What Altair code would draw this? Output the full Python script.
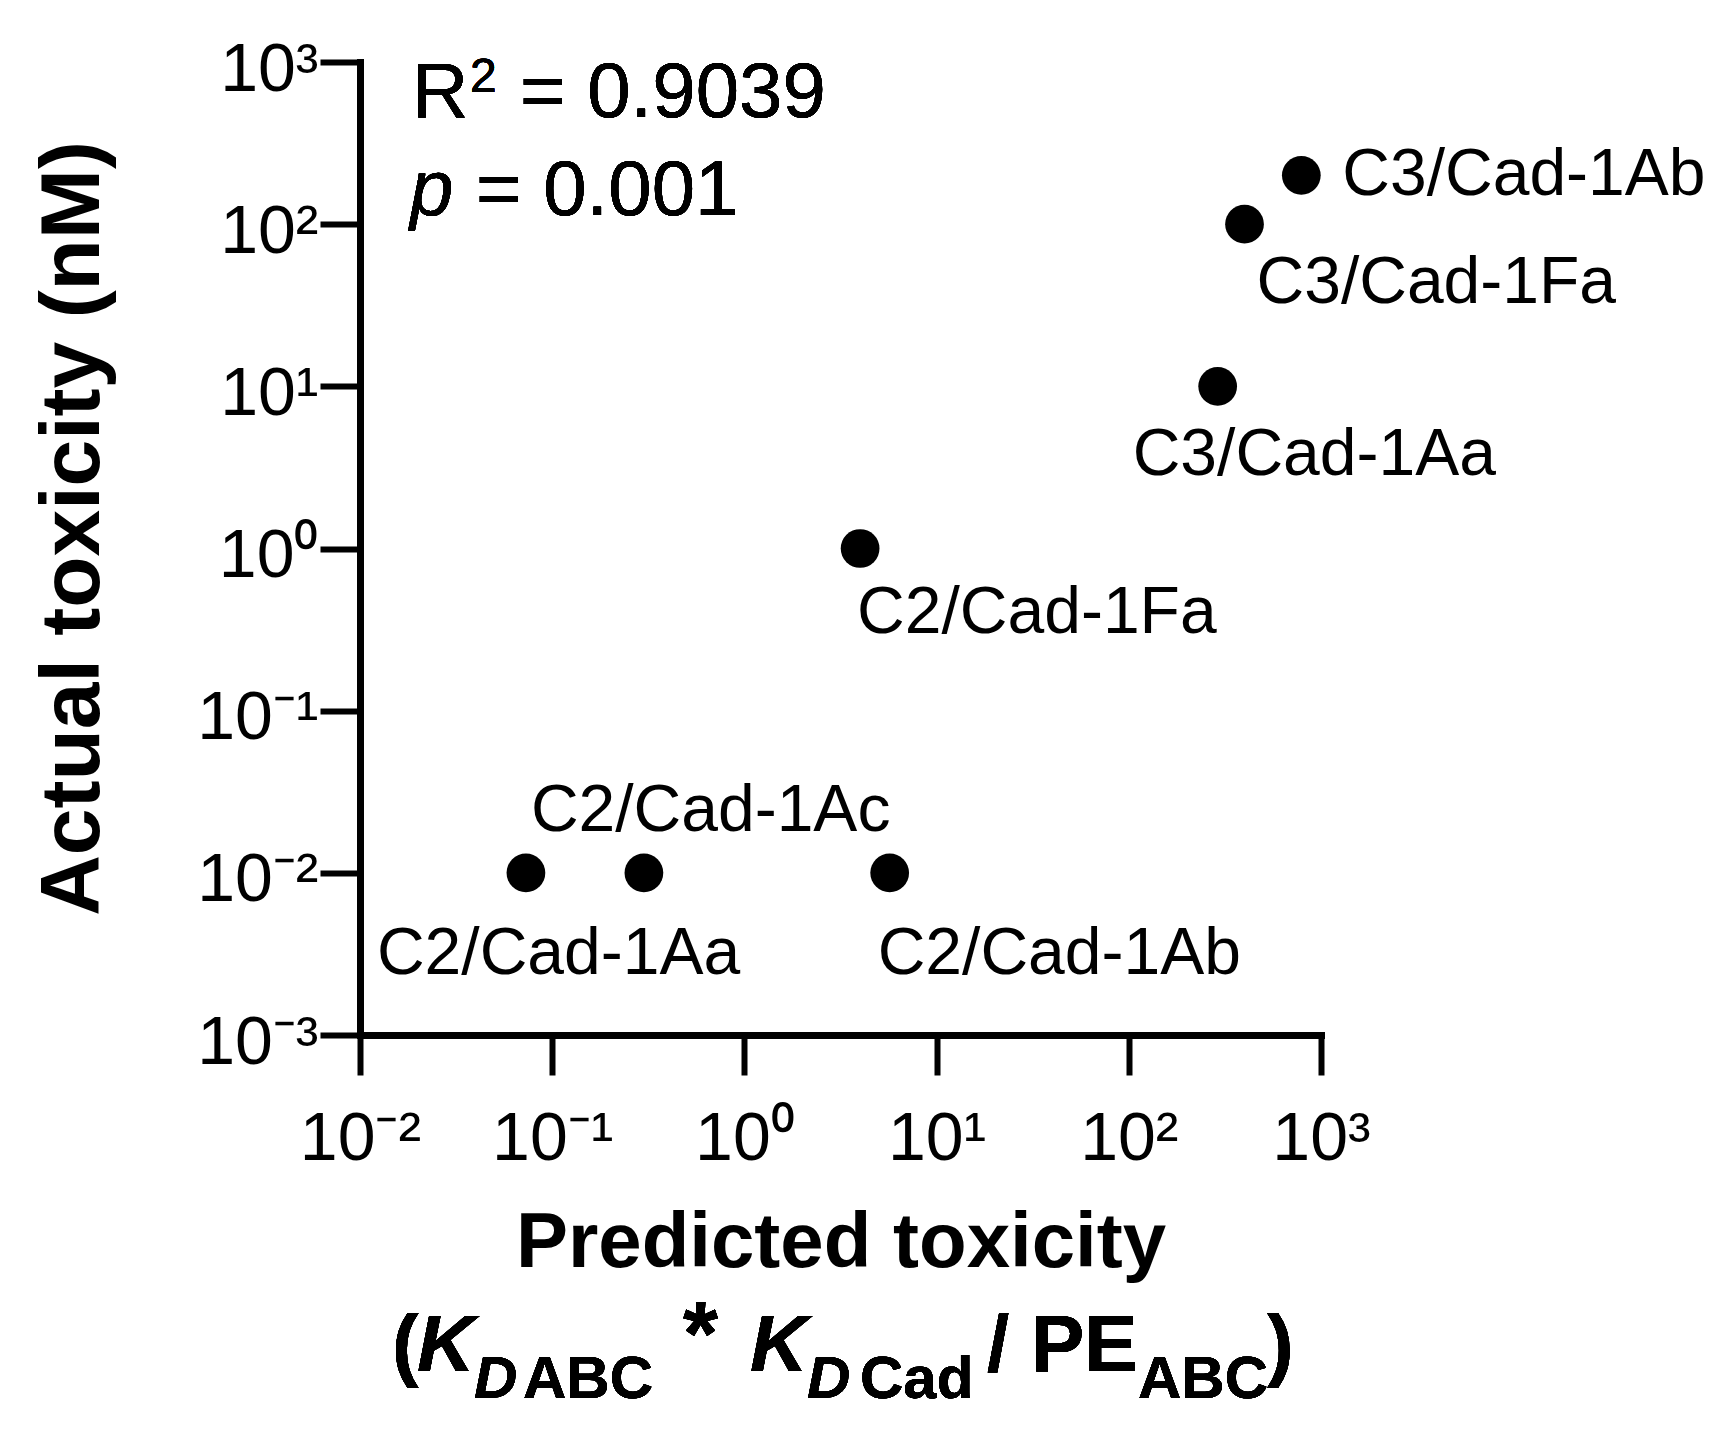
import altair as alt
import pandas as pd

FONT = "Liberation Sans"

# ---- data ----
names = ["C2/Cad-1Aa", "C2/Cad-1Ac", "C2/Cad-1Ab", "C2/Cad-1Fa",
         "C3/Cad-1Aa", "C3/Cad-1Fa", "C3/Cad-1Ab"]
predicted = [0.073, 0.30, 5.7, 4.0, 290, 400, 790]
actual = [0.01, 0.01, 0.01, 1, 10, 100, 200]

x_ticks = [0.01, 0.1, 1, 10, 100, 1000]
x_tick_labels = ["10⁻²", "10⁻¹", "10⁰", "10¹", "10²", "10³"]
y_ticks = [0.001, 0.01, 0.1, 1, 10, 100, 1000]
y_tick_labels = ["10⁻³", "10⁻²", "10⁻¹", "10⁰", "10¹", "10²", "10³"]

df = pd.DataFrame({"name": names, "predicted": predicted, "actual": actual})

# label placement (offsets from the point, px)
label_offsets = {
    "C2/Cad-1Aa": (-149, 101),
    "C2/Cad-1Ac": (-113, -42),
    "C2/Cad-1Ab": (-12, 101),
    "C2/Cad-1Fa": (-3, 84),
    "C3/Cad-1Aa": (-85, 89),
    "C3/Cad-1Fa": (12, 79),
    "C3/Cad-1Ab": (41, 20),
}

W, H = 961, 973


def label_expr(labels, offset):
    arr = "[" + ",".join("'" + s + "'" for s in labels) + "]"
    return f"{arr}[round(log(datum.value)/LN10)+{offset}]"


x_enc = alt.X(
    "predicted:Q",
    scale=alt.Scale(type="log", domain=[0.01, 1000], nice=False),
    axis=alt.Axis(
        values=x_ticks, labelExpr=label_expr(x_tick_labels, 2),
        title="Predicted toxicity", titleFontSize=78, titleFont=FONT,
        titleFontWeight="bold", titleBaseline="alphabetic", titleY=231,
        titleX=W / 2, titleAlign="center",
        labelPadding=30, labelFlush=False, labelOverlap=False,
    ),
)
y_enc = alt.Y(
    "actual:Q",
    scale=alt.Scale(type="log", domain=[0.001, 1000], nice=False),
    axis=alt.Axis(
        values=y_ticks, labelExpr=label_expr(y_tick_labels, 3),
        title="Actual toxicity (nM)", titleFontSize=84, titleFont=FONT,
        titleFontWeight="bold", titleAngle=270, titleBaseline="alphabetic",
        titleAlign="center", titleX=-262, titleY=466,
        labelPadding=2, labelOffset=8, labelOverlap=False, labelFlush=False,
    ),
)

base = alt.Chart(df)

points = base.mark_circle(size=1500, color="black", opacity=1).encode(
    x=x_enc, y=y_enc
)

layers = [points]
for n in names:
    dx, dy = label_offsets[n]
    layers.append(
        base.transform_filter(alt.datum.name == n)
        .mark_text(align="left", baseline="alphabetic", dx=dx, dy=dy,
                   fontSize=66, font=FONT, color="black")
        .encode(x=x_enc, y=y_enc, text="name:N")
    )


def txt(text, x, y, size, weight="normal", style="normal", align="left"):
    return alt.Chart(df).mark_text(
        align=align, baseline="alphabetic", fontSize=size, font=FONT,
        fontWeight=weight, fontStyle=style, color="black",
    ).encode(x=alt.value(x), y=alt.value(y), text=alt.value(text))


# statistics annotation
layers += [
    txt("R", 52, 55, 78),
    txt("2", 110, 30, 48),
    txt("= 0.9039", 160, 55, 78),
    txt("p", 50, 153, 78, style="italic"),
    txt("= 0.001", 116, 153, 78),
]

# second line of the x-axis title: (K_D ABC * K_D Cad / PE_ABC)
MB, SB = 1309, 1336
layers += [
    txt("(", 32, MB, 80, weight="bold"),
    txt("K", 57, MB, 80, weight="bold", style="italic"),
    txt("D", 114, SB, 60, weight="bold", style="italic"),
    txt("ABC", 163, SB, 60, weight="bold"),
    txt("*", 323, 1303, 90, weight="bold"),
    txt("K", 390, MB, 80, weight="bold", style="italic"),
    txt("D", 447, SB, 60, weight="bold", style="italic"),
    txt("Cad", 500, SB, 60, weight="bold"),
    txt("/", 627, MB, 80, weight="bold"),
    txt("PE", 671, MB, 80, weight="bold"),
    txt("ABC", 778, SB, 60, weight="bold"),
    txt(")", 907, MB, 80, weight="bold"),
]

chart = (
    alt.layer(*layers)
    .properties(
        width=W, height=H,
        autosize=alt.AutoSizeParams(type="none"),
        padding={"left": 352, "top": 54, "right": 390, "bottom": 385},
    )
    .configure_view(stroke=None)
    .configure_axis(
        domainColor="black", domainWidth=7, domainCap="square",
        tickColor="black", tickWidth=6, tickSize=40,
        labelFont=FONT, labelFontSize=68, labelColor="black",
        titleColor="black", grid=False,
    )
)

chart.save("out.html", embed_options={"renderer": "svg", "actions": False})
